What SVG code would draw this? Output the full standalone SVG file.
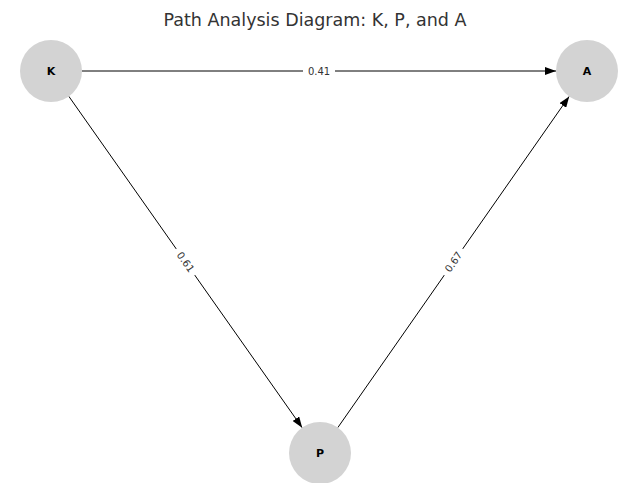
<svg xmlns="http://www.w3.org/2000/svg" width="621" height="483" viewBox="0 0 621 483">
<style>
.node{fill:#d3d3d3;}
.nlabel{font-family:"DejaVu Sans",sans-serif;font-size:11px;font-weight:bold;fill:#000;text-anchor:middle;dominant-baseline:central;}
.edge{stroke:#000;stroke-width:1;fill:none;marker-end:url(#arr);}
.elabel{font-family:"DejaVu Sans",sans-serif;font-size:10px;fill:#333;text-anchor:middle;dominant-baseline:central;}
.lbg{fill:#fff;}
.title{font-family:"DejaVu Sans",sans-serif;font-size:17.5px;fill:#333;text-anchor:middle;}
</style>
<defs>
<marker id="arr" markerUnits="userSpaceOnUse" markerWidth="11" markerHeight="8" refX="11" refY="4" orient="auto">
<path d="M0,0 L11,4 L0,8 z" fill="#000"/>
</marker>
</defs>
<rect width="621" height="483" fill="#fff"/>
<text class="title" x="315" y="26">Path Analysis Diagram: K, P, and A</text>
<g id="connectors">
<line class="edge" x1="82" y1="71" x2="556" y2="71"/>
<line class="edge" x1="68.8" y1="96.3" x2="302.2" y2="427.7"/>
<line class="edge" x1="337.8" y1="427.6" x2="569.2" y2="96.4"/>
<g transform="translate(319,71)"><rect class="lbg" x="-16" y="-6" width="32" height="12"/><text class="elabel" x="0" y="0">0.41</text></g>
<g transform="translate(185.5,262) rotate(54.8)"><rect class="lbg" x="-16" y="-6" width="32" height="12"/><text class="elabel" x="0" y="0">0.61</text></g>
<g transform="translate(453.5,262) rotate(-55)"><rect class="lbg" x="-16" y="-6" width="32" height="12"/><text class="elabel" x="0" y="0">0.67</text></g>
</g>
<g id="node-K"><circle class="node" cx="51" cy="71" r="31"/><text class="nlabel" x="51" y="71">K</text></g>
<g id="node-A"><circle class="node" cx="587" cy="71" r="31"/><text class="nlabel" x="587" y="71">A</text></g>
<g id="node-P"><circle class="node" cx="320" cy="453" r="31"/><text class="nlabel" x="320" y="453">P</text></g>
</svg>
